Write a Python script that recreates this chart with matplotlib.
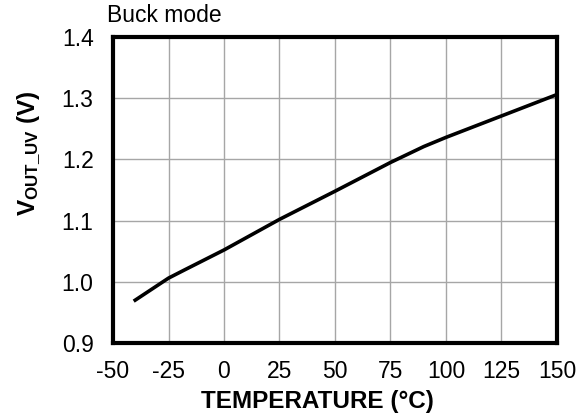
import matplotlib
matplotlib.use('Agg')

import matplotlib.pyplot as plt

# data
temp = [-40, -25, -18, 0, 25, 50, 75, 90, 100, 125, 150]
vout_uv = [0.970, 1.006, 1.019, 1.052, 1.102, 1.148, 1.195, 1.221, 1.236, 1.271, 1.306]

x_ticks = [-50, -25, 0, 25, 50, 75, 100, 125, 150]
y_ticks = [0.9, 1.0, 1.1, 1.2, 1.3, 1.4]

plt.rcParams['font.family'] = ['Liberation Sans', 'DejaVu Sans']
plt.rcParams['mathtext.fontset'] = 'custom'
plt.rcParams['mathtext.rm'] = 'Liberation Sans'
plt.rcParams['mathtext.bf'] = 'Liberation Sans:bold'
plt.rcParams['axes.unicode_minus'] = False

fig = plt.figure(figsize=(5.83, 4.15), dpi=100)
ax = fig.add_axes([113 / 583, 1 - 343 / 415, 444 / 583, 306 / 415])

ax.plot(temp, vout_uv, color='black', linewidth=2.6)

ax.set_xlim(-50, 150)
ax.set_ylim(0.9, 1.4)
ax.set_xticks(x_ticks)
ax.set_yticks(y_ticks)
ax.set_yticklabels([f'{v:.1f}' for v in y_ticks])
ax.tick_params(length=0, labelsize=16.5)
ax.tick_params(axis='x', pad=12)
ax.tick_params(axis='y', pad=14)

ax.grid(True, color='#a6a6a6', linewidth=1)
ax.set_axisbelow(True)
for s in ax.spines.values():
    s.set_linewidth(3)

ax.set_xlabel('TEMPERATURE (°C)', fontsize=17.5, fontweight='bold')
ax.xaxis.set_label_coords(0.46, -0.155)
ax.set_ylabel(r'$\mathbf{V_{OUT\_UV}}$ (V)', fontsize=17.5, fontweight='bold')
ax.yaxis.set_label_coords(-0.157, 0.62)
ax.set_title('Buck mode', fontsize=16.5, loc='left', pad=11, x=-0.013)

plt.savefig('out.png', dpi=100)
